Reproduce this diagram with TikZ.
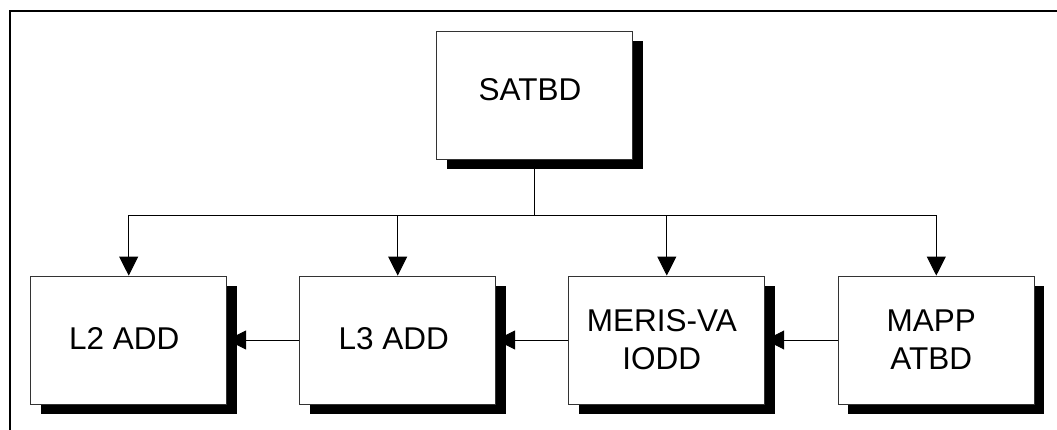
\documentclass[tikz,border=0pt]{standalone}
\usepackage{fontspec}
\setmainfont{Liberation Sans}
\usetikzlibrary{arrows.meta,shadows}
\tikzset{
  docbox/.style={draw=black!80, line width=0.8pt, fill=white, minimum width=196pt, minimum height=128pt, inner sep=0pt,
    drop shadow={shadow xshift=10pt, shadow yshift=-10pt, fill=black, opacity=1}},
  doctext/.style={inner sep=0pt, align=center, font=\fontsize{31.5}{38}\selectfont},
  conn/.style={draw=black, line width=0.9pt},
  arr/.style={conn, -{Triangle[length=19pt, width=19pt]}},
  frame/.style={draw=black, line width=2.5pt}
}
\begin{document}
\begin{tikzpicture}[x=1pt, y=-1pt]
  \useasboundingbox (0,0) rectangle (1057,430);
  % frame (top and left only)
  \coordinate (ftr) at (1057,11);
  \coordinate (ftl) at (10,11);
  \coordinate (fbl) at (10,430);
  \draw[frame] (ftr) -- (ftl) -- (fbl);
  % boxes
  \node[docbox] (satbd) at (534.7,95.5) {};
  \node[docbox] (l2)    at (128.7,340) {};
  \node[docbox] (l3)    at (397.7,340) {};
  \node[docbox] (meris) at (666.8,340) {};
  \node[docbox] (mapp)  at (936.3,340) {};
  % texts
  \node[doctext] (satbdT) at ([xshift=-4.7pt, yshift=5.5pt]satbd.center) {SATBD};
  \node[doctext] (l2T)    at ([xshift=-4.5pt, yshift=1.3pt]l2.center) {L2 ADD};
  \node[doctext] (l3T)    at ([xshift=-4pt, yshift=1.3pt]l3.center) {L3 ADD};
  \node[doctext] (merisT) at ([xshift=-5pt]meris.center) {MERIS-VA\\IODD};
  \node[doctext] (mappT)  at ([xshift=-5pt]mapp.center) {MAPP\\ATBD};
  % connectors
  \coordinate (bus) at (534.7,215);
  \draw[conn] (satbd.south) -- (bus);
  \draw[arr] (bus) -| (l2.north);
  \draw[arr] (bus) -| (l3.north);
  \draw[arr] (bus) -| (meris.north);
  \draw[arr] (bus) -| (mapp.north);
  \draw[arr] (mapp.west) -- (meris.east);
  \draw[arr] (meris.west) -- (l3.east);
  \draw[arr] (l3.west) -- (l2.east);
\end{tikzpicture}
\end{document}
